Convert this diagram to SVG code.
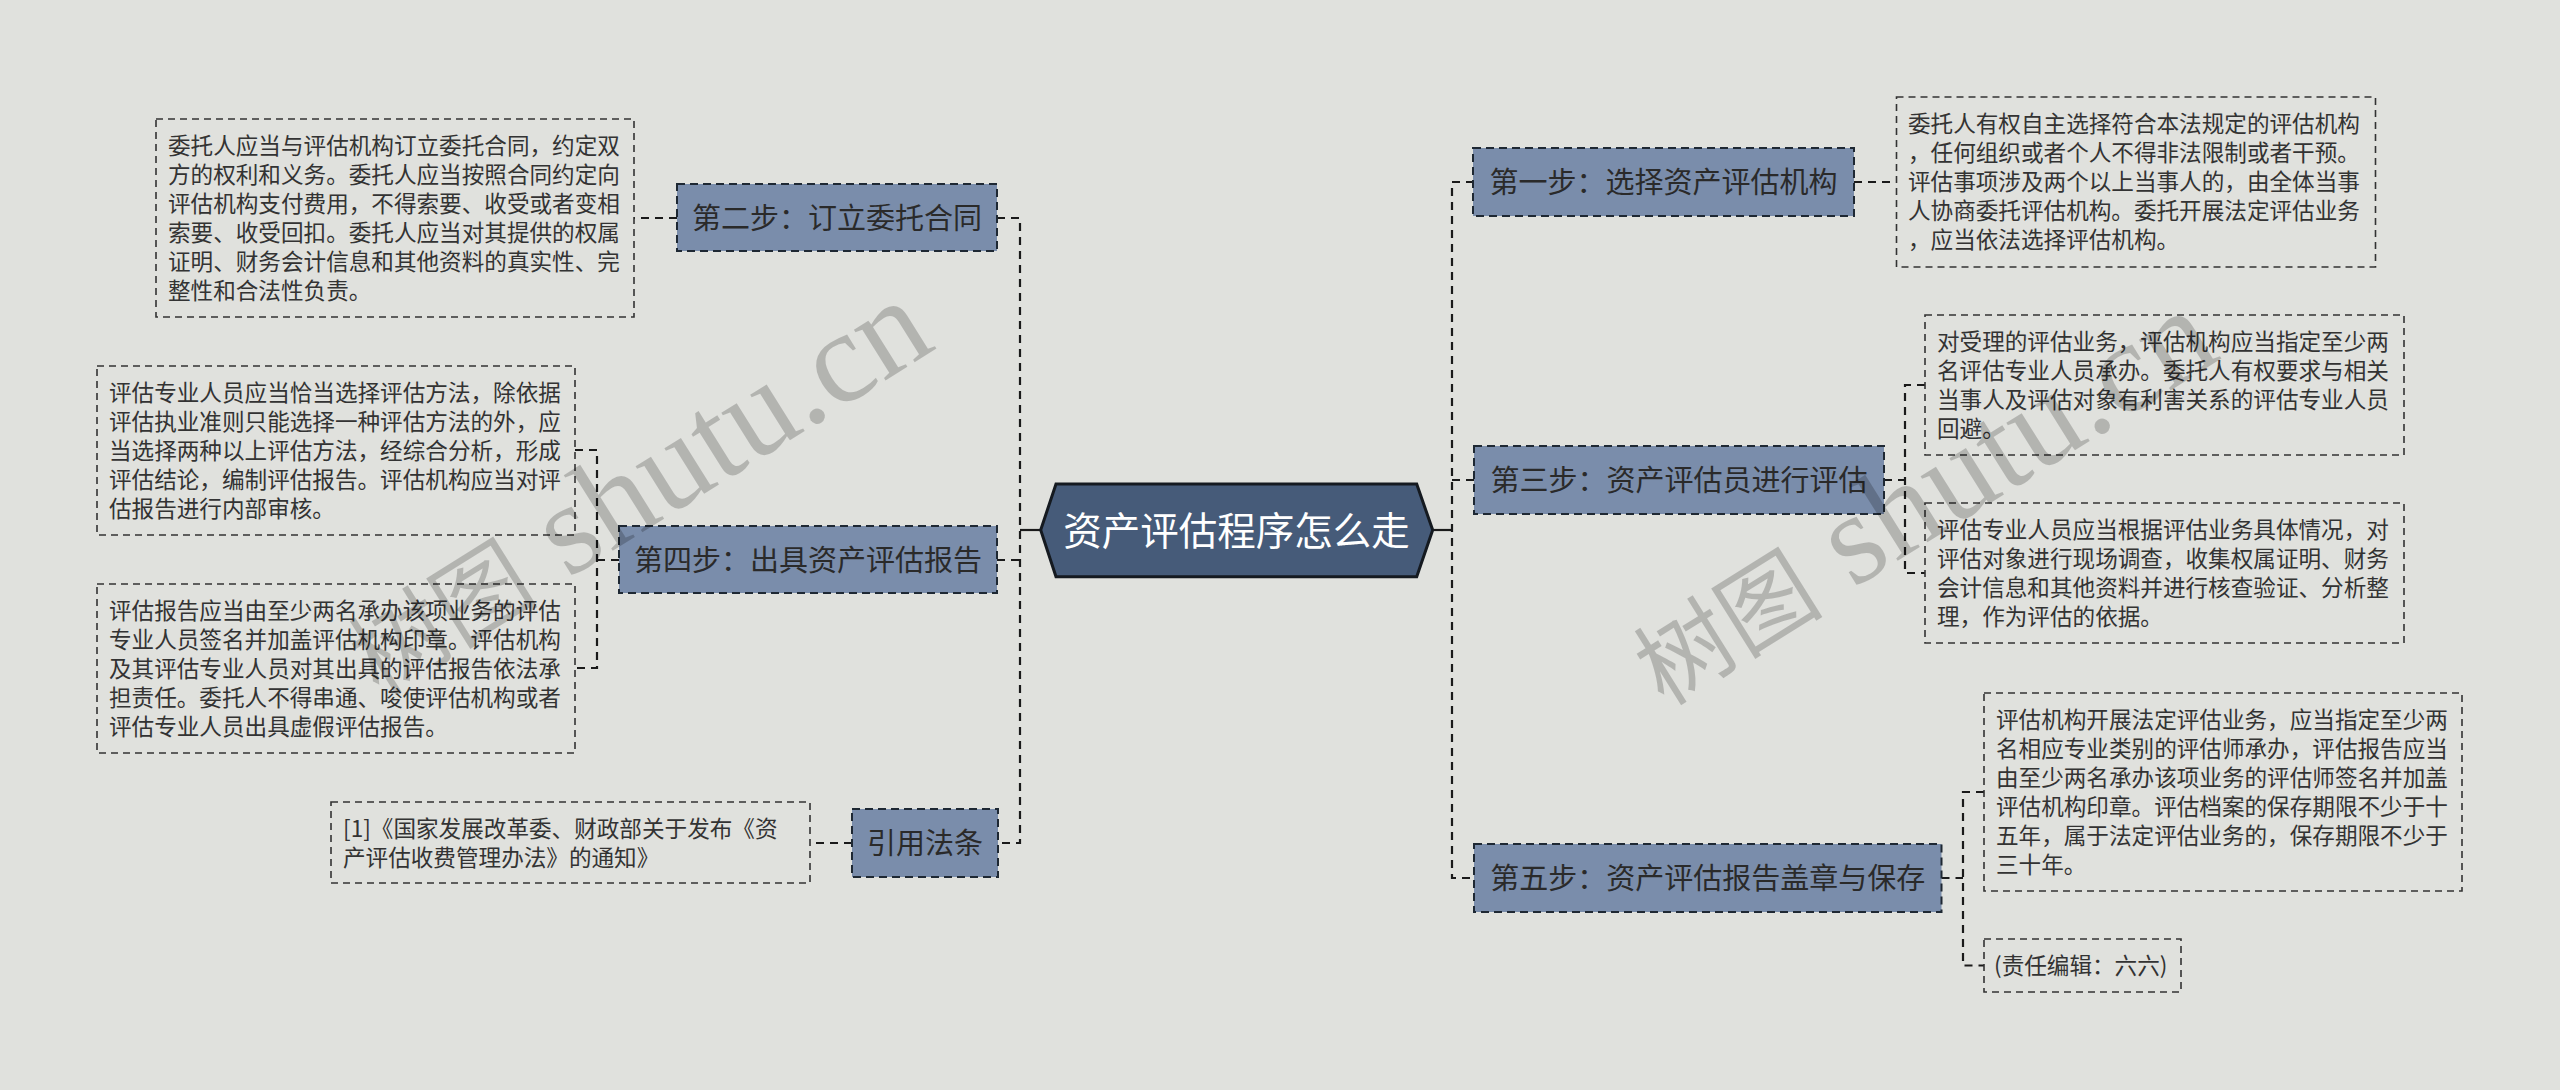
<svg xmlns="http://www.w3.org/2000/svg" width="2560" height="1090" viewBox="0 0 2560 1090">
<style>
.bg{fill:#e0e1dd}
.node rect{fill:#7a8dab;stroke:#1e2833;stroke-width:2;stroke-dasharray:8 5}
.node text{font-family:"Noto Sans CJK SC","Liberation Sans",sans-serif;font-size:29px;fill:#2a2a2a;text-anchor:middle}
.box rect{fill:none;stroke:#333;stroke-width:1.6;stroke-dasharray:7 5}
.box text{font-family:"Noto Sans CJK SC","Liberation Sans",sans-serif;font-size:22.6px;fill:#333}
.conn path{fill:none;stroke:#1a1a1a;stroke-width:2.2;stroke-dasharray:8 6}
.conn path.solid{stroke-dasharray:none}
.wm{font-family:"Liberation Serif","Noto Sans CJK SC",serif;fill:#000;fill-opacity:0.2}
</style>
<rect class="bg" x="0" y="0" width="2560" height="1090"/>

<g id="connectors" class="conn">
  <path class="solid" d="M1040.7,530 H1020"/>
  <path class="solid" d="M1432.7,530 H1452"/>
  <path d="M997,218 H1020 V843 H998"/>
  <path d="M997,560 H1020"/>
  <path d="M1474,182 H1452 V878 H1474"/>
  <path d="M1452,480 H1474"/>
  <path d="M677,218 H634"/>
  <path d="M619,560 H597"/>
  <path d="M575,450 H597 V668 H575"/>
  <path d="M852,843 H810"/>
  <path d="M1854,182 H1896"/>
  <path d="M1884,480 H1905"/>
  <path d="M1925,385 H1905 V573 H1925"/>
  <path d="M1941.5,878 H1963"/>
  <path d="M1984,792 H1963 V965.5 H1984"/>
</g>

<g id="root">
  <polygon points="1040.7,530 1056,484 1416.7,484 1432.7,530 1416.7,576.7 1056,576.7" fill="#465b79" stroke="#151a20" stroke-width="3"/>
  <text x="1236.5" y="544.5" font-family="Noto Sans CJK SC, Liberation Sans, sans-serif" font-size="38.5" fill="#ffffff" text-anchor="middle">资产评估程序怎么走</text>
</g>

<g id="step2" class="node">
  <rect x="677" y="184" width="320" height="67"/>
  <text x="837" y="229">第二步：订立委托合同</text>
</g>
<g id="step4" class="node">
  <rect x="619" y="526" width="378" height="67"/>
  <text x="808" y="571">第四步：出具资产评估报告</text>
</g>
<g id="law" class="node">
  <rect x="852" y="809" width="146" height="68"/>
  <text x="925" y="854">引用法条</text>
</g>
<g id="step1" class="node">
  <rect x="1473" y="148" width="381" height="68"/>
  <text x="1663.5" y="193">第一步：选择资产评估机构</text>
</g>
<g id="step3" class="node">
  <rect x="1474" y="446" width="410" height="68"/>
  <text x="1679" y="491">第三步：资产评估员进行评估</text>
</g>
<g id="step5" class="node">
  <rect x="1474" y="844" width="467.5" height="68"/>
  <text x="1707.7" y="889">第五步：资产评估报告盖章与保存</text>
</g>

<g id="step2-detail" class="box">
  <rect x="156" y="119" width="478" height="198"/>
  <text x="168" y="154">委托人应当与评估机构订立委托合同，约定双</text>
  <text x="168" y="183">方的权利和义务。委托人应当按照合同约定向</text>
  <text x="168" y="212">评估机构支付费用，不得索要、收受或者变相</text>
  <text x="168" y="241">索要、收受回扣。委托人应当对其提供的权属</text>
  <text x="168" y="270">证明、财务会计信息和其他资料的真实性、完</text>
  <text x="168" y="299">整性和合法性负责。</text>
</g>
<g id="step4-detail-a" class="box">
  <rect x="97" y="366" width="478" height="169"/>
  <text x="109" y="401">评估专业人员应当恰当选择评估方法，除依据</text>
  <text x="109" y="430">评估执业准则只能选择一种评估方法的外，应</text>
  <text x="109" y="459">当选择两种以上评估方法，经综合分析，形成</text>
  <text x="109" y="488">评估结论，编制评估报告。评估机构应当对评</text>
  <text x="109" y="517">估报告进行内部审核。</text>
</g>
<g id="step4-detail-b" class="box">
  <rect x="97" y="584" width="478" height="169"/>
  <text x="109" y="619">评估报告应当由至少两名承办该项业务的评估</text>
  <text x="109" y="648">专业人员签名并加盖评估机构印章。评估机构</text>
  <text x="109" y="677">及其评估专业人员对其出具的评估报告依法承</text>
  <text x="109" y="706">担责任。委托人不得串通、唆使评估机构或者</text>
  <text x="109" y="735">评估专业人员出具虚假评估报告。</text>
</g>
<g id="law-detail" class="box">
  <rect x="331" y="802" width="479" height="81"/>
  <text x="343" y="837">[1]《国家发展改革委、财政部关于发布《资</text>
  <text x="343" y="866">产评估收费管理办法》的通知》</text>
</g>
<g id="step1-detail" class="box">
  <rect x="1896.5" y="97" width="479" height="170"/>
  <text x="1908" y="132">委托人有权自主选择符合本法规定的评估机构</text>
  <text x="1908" y="161">，任何组织或者个人不得非法限制或者干预。</text>
  <text x="1908" y="190">评估事项涉及两个以上当事人的，由全体当事</text>
  <text x="1908" y="219">人协商委托评估机构。委托开展法定评估业务</text>
  <text x="1908" y="248">，应当依法选择评估机构。</text>
</g>
<g id="step3-detail-a" class="box">
  <rect x="1925" y="315" width="479" height="140"/>
  <text x="1937" y="350">对受理的评估业务，评估机构应当指定至少两</text>
  <text x="1937" y="379">名评估专业人员承办。委托人有权要求与相关</text>
  <text x="1937" y="408">当事人及评估对象有利害关系的评估专业人员</text>
  <text x="1937" y="437">回避。</text>
</g>
<g id="step3-detail-b" class="box">
  <rect x="1925" y="503" width="479" height="140"/>
  <text x="1937" y="538">评估专业人员应当根据评估业务具体情况，对</text>
  <text x="1937" y="567">评估对象进行现场调查，收集权属证明、财务</text>
  <text x="1937" y="596">会计信息和其他资料并进行核查验证、分析整</text>
  <text x="1937" y="625">理，作为评估的依据。</text>
</g>
<g id="step5-detail" class="box">
  <rect x="1984" y="693" width="478" height="198"/>
  <text x="1996" y="728">评估机构开展法定评估业务，应当指定至少两</text>
  <text x="1996" y="757">名相应专业类别的评估师承办，评估报告应当</text>
  <text x="1996" y="786">由至少两名承办该项业务的评估师签名并加盖</text>
  <text x="1996" y="815">评估机构印章。评估档案的保存期限不少于十</text>
  <text x="1996" y="844">五年，属于法定评估业务的，保存期限不少于</text>
  <text x="1996" y="873">三十年。</text>
</g>
<g id="editor" class="box">
  <rect x="1984" y="939" width="197" height="53"/>
  <text x="1994" y="974">(责任编辑：六六)</text>
</g>

<g id="watermarks">
  <text class="wm" transform="translate(379,697) rotate(-32)"><tspan font-size="95">树图</tspan><tspan font-size="130"> shutu.cn</tspan></text>
  <text class="wm" transform="translate(1664,707) rotate(-32)"><tspan font-size="95">树图</tspan><tspan font-size="130"> shutu.cn</tspan></text>
</g>
</svg>
